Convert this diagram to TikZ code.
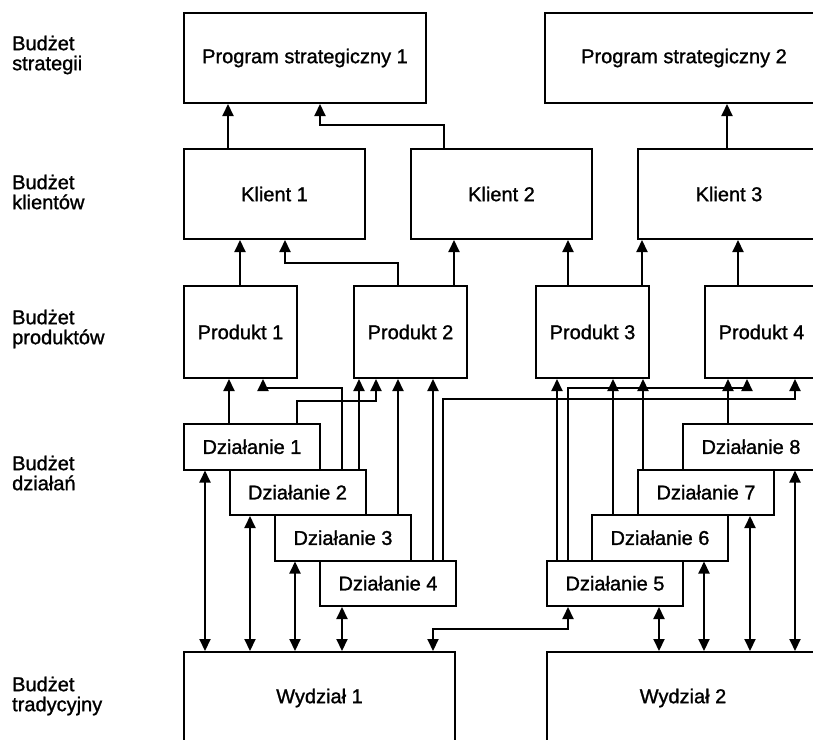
\documentclass[tikz,border=0pt]{standalone}
\usepackage{fontspec}
\setmainfont{Liberation Sans}[BoldFont=Liberation Sans,BoldFeatures={FakeBold=1.2}]
\usetikzlibrary{arrows.meta}
\tikzset{
  budbox/.style={draw,line width=2pt,inner sep=0pt,anchor=north west,
                 align=center,font=\fontsize{20}{20}\selectfont\bfseries},
  rowlabel/.style={anchor=west,align=left,inner sep=0pt,
                   font=\fontsize{20}{20}\selectfont\bfseries},
  conn/.style={->,line width=2pt},
  bothconn/.style={<->,line width=2pt}
}
\newcommand{\budgetbox}[5]{%
  \node[budbox,minimum width=#4,minimum height=#5] (#1) at (#2) {#3};%
}

\begin{document}
\begin{tikzpicture}[x=1pt,y=-1pt,>={Triangle[length=12pt,width=11pt]}]
    \path[use as bounding box] (0,0) rectangle (813,739);
    \clip (0,0) rectangle (813,739);
    % row labels
    \node[rowlabel] (lstrat) at (12,55) {Budżet\\strategii};
    \node[rowlabel] (lklient) at (12,192) {Budżet\\klientów};
    \node[rowlabel] (lprod) at (12,329) {Budżet\\produktów};
    \node[rowlabel] (ldzial) at (12,473) {Budżet\\działań};
    \node[rowlabel] (ltrad) at (12,696) {Budżet\\tradycyjny};
    % boxes
    \budgetbox{ps1}{183,12}{Program strategiczny 1}{242pt}{90pt}
    \budgetbox{ps2}{544,12}{Program strategiczny 2}{278pt}{90pt}
    \budgetbox{k1}{183,148}{Klient 1}{181pt}{90pt}
    \budgetbox{k2}{410,148}{Klient 2}{181pt}{90pt}
    \budgetbox{k3}{637,148}{Klient 3}{182pt}{90pt}
    \budgetbox{p1}{183,285}{Produkt 1}{113pt}{92pt}
    \budgetbox{p2}{353,285}{Produkt 2}{113pt}{92pt}
    \budgetbox{p3}{535,285}{Produkt 3}{113pt}{92pt}
    \budgetbox{p4}{704,285}{Produkt 4}{113pt}{92pt}
    \budgetbox{d1}{183,423}{Działanie 1}{136pt}{45.5pt}
    \budgetbox{d2}{228.5,468.5}{Działanie 2}{136pt}{45.5pt}
    \budgetbox{d3}{274,514}{Działanie 3}{136pt}{45.5pt}
    \budgetbox{d4}{319,559.5}{Działanie 4}{136pt}{45.5pt}
    \budgetbox{d5}{546,559.5}{Działanie 5}{136pt}{45.5pt}
    \budgetbox{d6}{591,514}{Działanie 6}{136pt}{45.5pt}
    \budgetbox{d7}{637,468.5}{Działanie 7}{136pt}{45.5pt}
    \budgetbox{d8}{682,423}{Działanie 8}{136pt}{45.5pt}
    \budgetbox{w1}{183,651}{Wydział 1}{271pt}{92pt}
    \budgetbox{w2}{546,651}{Wydział 2}{272pt}{92pt}
    % klienci -> programy
    \draw[conn] (k1.north -| 228,0) -- (ps1.south -| 228,0);
    \draw[conn] (k2.north -| 444,0) |- (320,125) -- (ps1.south -| 320,0);
    \draw[conn] (k3.north -| 727,0) -- (ps2.south -| 727,0);
    % produkty -> klienci
    \draw[conn] (p1.north -| 240,0) -- (k1.south -| 240,0);
    \draw[conn] (p2.north -| 398,0) |- (285,263) -- (k1.south -| 285,0);
    \draw[conn] (p2.north -| 454,0) -- (k2.south -| 454,0);
    \draw[conn] (p3.north -| 568,0) -- (k2.south -| 568,0);
    \draw[conn] (p3.north -| 642,0) -- (k3.south -| 642,0);
    \draw[conn] (p4.north -| 738,0) -- (k3.south -| 738,0);
    % dzialania -> produkty
    \draw[conn] (d1.north -| 229,0) -- (p1.south -| 229,0);
    \draw[conn] (d2.north -| 342,0) |- (263,388) -- (p1.south -| 263,0);
    \draw[conn] (d2.north -| 359,0) -- (p2.south -| 359,0);
    \draw[conn] (d1.north -| 297,0) |- (376,401) -- (p2.south -| 376,0);
    \draw[conn] (d3.north -| 398,0) -- (p2.south -| 398,0);
    \draw[conn] (d4.north -| 433,0) -- (p2.south -| 433,0);
    \draw[conn] (d4.north -| 443,0) |- (795,399) -- (p4.south -| 795,0);
    \draw[conn] (d5.north -| 557,0) -- (p3.south -| 557,0);
    \draw[conn] (d5.north -| 568,0) |- (747,388) -- (p4.south -| 747,0);
    \draw[conn] (d6.north -| 613,0) -- (p3.south -| 613,0);
    \draw[conn] (d7.north -| 643,0) -- (p3.south -| 643,0);
    \draw[conn] (d8.north -| 728,0) -- (p4.south -| 728,0);
    % dzialania <-> wydzialy
    \draw[bothconn] (d1.south -| 205,0) -- (w1.north -| 205,0);
    \draw[bothconn] (d2.south -| 250,0) -- (w1.north -| 250,0);
    \draw[bothconn] (d3.south -| 295,0) -- (w1.north -| 295,0);
    \draw[bothconn] (d4.south -| 342,0) -- (w1.north -| 342,0);
    \draw[bothconn] (d5.south -| 568,0) |- (433,629) -- (w1.north -| 433,0);
    \draw[bothconn] (d5.south -| 659,0) -- (w2.north -| 659,0);
    \draw[bothconn] (d6.south -| 704,0) -- (w2.north -| 704,0);
    \draw[bothconn] (d7.south -| 750,0) -- (w2.north -| 750,0);
    \draw[bothconn] (d8.south -| 795,0) -- (w2.north -| 795,0);
  \end{tikzpicture}
\end{document}
